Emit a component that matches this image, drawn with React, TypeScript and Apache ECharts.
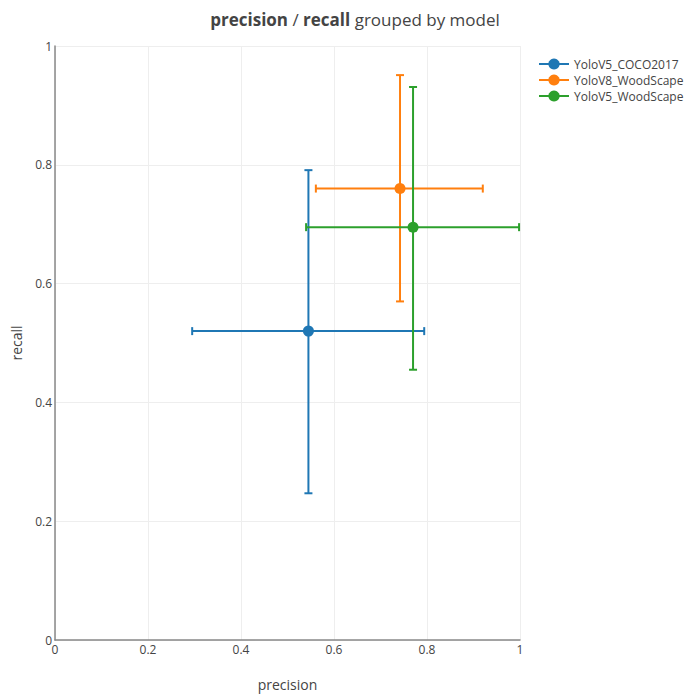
import React, { useEffect, useRef } from "react";
import * as echarts from "echarts";

const models = ["YoloV5_COCO2017", "YoloV8_WoodScape", "YoloV5_WoodScape"];
const colors = ["#1f77b4", "#ff7f0e", "#2ca02c"];
const precision = [0.545, 0.742, 0.77];
const recall = [0.52, 0.76, 0.695];
const precisionLow = [0.295, 0.561, 0.54];
const precisionHigh = [0.794, 0.92, 0.998];
const recallLow = [0.247, 0.57, 0.455];
const recallHigh = [0.791, 0.951, 0.931];
const ticks = [0, 0.2, 0.4, 0.6, 0.8, 1];

const FONT = "'Open Sans', Verdana, sans-serif";

export default function App() {
  const ref = useRef<HTMLDivElement>(null);
  useEffect(() => {
    if (!ref.current) return;
    const chart = echarts.init(ref.current, undefined, { renderer: "svg" });
    const fmt = (v: number) => {
      const r = Math.round(v * 10) / 10;
      return ticks.some((t) => Math.abs(t - r) < 1e-9) ? String(r) : "";
    };
    const series: any[] = [];
    models.forEach((m, i) => {
      series.push({
        type: "line",
        name: m,
        data: [[precision[i], recall[i]]],
        symbol: "circle",
        symbolSize: 11,
        showSymbol: true,
        itemStyle: { color: colors[i] },
        lineStyle: { color: colors[i], width: 2 },
        z: 3,
      });
    });
    models.forEach((m, i) => {
      series.push({
        type: "custom",
        name: m,
        coordinateSystem: "cartesian2d",
        clip: false,
        encode: { x: 0, y: 1 },
        itemStyle: { color: colors[i] },
        data: [[precision[i], recall[i], precisionLow[i], precisionHigh[i], recallLow[i], recallHigh[i]]],
        renderItem: (params: any, api: any) => {
          const c = api.coord([api.value(0), api.value(1)]);
          const xl = api.coord([api.value(2), api.value(1)]);
          const xh = api.coord([api.value(3), api.value(1)]);
          const yl = api.coord([api.value(0), api.value(4)]);
          const yh = api.coord([api.value(0), api.value(5)]);
          const style = { stroke: colors[i], lineWidth: 2 };
          const cap = 4;
          return {
            type: "group",
            children: [
              { type: "line", shape: { x1: xl[0], y1: c[1], x2: xh[0], y2: c[1] }, style },
              { type: "line", shape: { x1: xl[0], y1: c[1] - cap, x2: xl[0], y2: c[1] + cap }, style },
              { type: "line", shape: { x1: xh[0], y1: c[1] - cap, x2: xh[0], y2: c[1] + cap }, style },
              { type: "line", shape: { x1: c[0], y1: yl[1], x2: c[0], y2: yh[1] }, style },
              { type: "line", shape: { x1: c[0] - cap, y1: yl[1], x2: c[0] + cap, y2: yl[1] }, style },
              { type: "line", shape: { x1: c[0] - cap, y1: yh[1], x2: c[0] + cap, y2: yh[1] }, style },
            ],
          };
        },
        z: 2,
      });
    });
    chart.setOption({
      animation: false,
      textStyle: { fontFamily: FONT },
      title: {
        text: "{b|precision} / {b|recall} grouped by model",
        left: 350,
        textAlign: "center",
        top: 6,
        textStyle: {
          fontFamily: FONT,
          fontSize: 17,
          fontWeight: "normal",
          color: "#444",
          rich: { b: { fontFamily: FONT, fontSize: 17, fontWeight: "bold", color: "#444" } },
        },
      },
      legend: {
        data: models,
        orient: "vertical",
        left: 533,
        top: 53,
        itemGap: 4,
        itemWidth: 30,
        itemHeight: 14,
        textStyle: { fontFamily: FONT, fontSize: 12, color: "#444" },
      },
      grid: { left: 55, right: 164, top: 46, bottom: 52, containLabel: false },
      xAxis: {
        type: "value",
        min: 0,
        max: 1,
        interval: 0.2,
        name: "precision",
        nameLocation: "middle",
        nameGap: 37,
        nameTextStyle: { fontFamily: FONT, fontSize: 14, color: "#444" },
        axisLine: { show: true, onZero: false, lineStyle: { color: "#888", width: 1.5 } },
        axisTick: { show: false },
        axisLabel: { formatter: fmt, fontFamily: FONT, fontSize: 12, color: "#444", margin: 3 },
        splitLine: { show: true, lineStyle: { color: "#eee", width: 1 } },
      },
      yAxis: {
        type: "value",
        min: 0,
        max: 1,
        interval: 0.2,
        name: "recall",
        nameLocation: "middle",
        nameGap: 32,
        nameTextStyle: { fontFamily: FONT, fontSize: 14, color: "#444" },
        axisLine: { show: true, onZero: false, lineStyle: { color: "#888", width: 1.5 } },
        axisTick: { show: false },
        axisLabel: { formatter: fmt, fontFamily: FONT, fontSize: 12, color: "#444", margin: 3 },
        splitLine: { show: true, lineStyle: { color: "#eee", width: 1 } },
      },
      series,
    });
    return () => chart.dispose();
  }, []);
  return <div ref={ref} style={{ width: 684, height: 696, position: "absolute", left: 0, top: 0 }} />;
}
